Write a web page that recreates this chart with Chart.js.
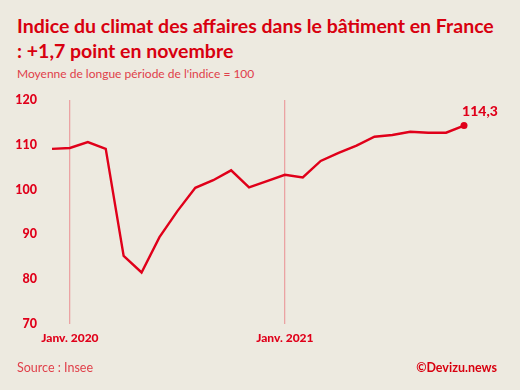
<!DOCTYPE html>
<html>
<head>
<meta charset="utf-8">
<script src="https://cdn.jsdelivr.net/npm/chart.js@4"></script>
<style>
  html, body { margin: 0; padding: 0; background: #edeae0; }
  #wrap { position: relative; width: 520px; height: 390px; overflow: hidden; font-family: Lato, sans-serif; }
  #title { position: absolute; left: 17px; top: 13px; color: #d8000f; font-weight: 700; font-size: 19.5px; line-height: 25px; white-space: nowrap; }
  #subtitle { position: absolute; left: 17px; top: 66px; color: #e0404a; font-size: 12px; white-space: nowrap; }
  #source { position: absolute; left: 17px; top: 360px; color: #e0404a; font-size: 12.5px; }
  #credit { position: absolute; right: 23px; top: 360px; color: #d8000f; font-weight: 700; font-size: 12.5px; }
  canvas { position: absolute; left: 0; top: 0; }
</style>
</head>
<body>
<div id="wrap">
  <div id="title">Indice du climat des affaires dans le bâtiment en France<br>: +1,7 point en novembre</div>
  <div id="subtitle">Moyenne de longue période de l'indice = 100</div>
  <canvas id="myChart" width="520" height="390"></canvas>
  <div id="source">Source : Insee</div>
  <div id="credit">©Devizu.news</div>
</div>
<script>
'use strict';

// *Data* - monthly index, Dec 2019 to Nov 2021
let months = ['déc. 2019',
  'janv. 2020', 'févr. 2020', 'mars 2020', 'avr. 2020', 'mai 2020', 'juin 2020',
  'juil. 2020', 'août 2020', 'sept. 2020', 'oct. 2020', 'nov. 2020', 'déc. 2020',
  'janv. 2021', 'févr. 2021', 'mars 2021', 'avr. 2021', 'mai 2021', 'juin 2021',
  'juil. 2021', 'août 2021', 'sept. 2021', 'oct. 2021', 'nov. 2021'];
let indexValues = [109.1,
  109.3, 110.6, 109.1, 85.2, 81.5, 89.4,
  95.2, 100.4, 102.1, 104.3, 100.5, 101.9,
  103.3, 102.7, 106.4, 108.2, 109.8, 111.8,
  112.2, 112.9, 112.7, 112.7, 114.3];
let yTicks = [70, 80, 90, 100, 110, 120];
// x labels only shown at these months
let markedMonths = { 'janv. 2020': 'Janv. 2020', 'janv. 2021': 'Janv. 2021' };
let lastLabel = '114,3';

const red = '#e0001a';
const ctx = document.getElementById('myChart');

// draws the dot and value on the last point
const lastPointPlugin = {
  id: 'lastPoint',
  afterDatasetsDraw(chart) {
    let meta = chart.getDatasetMeta(0);
    let pt = meta.data[meta.data.length - 1];
    let c = chart.ctx;
    c.save();
    c.fillStyle = red;
    c.beginPath();
    c.arc(pt.x, pt.y, 3.5, 0, Math.PI * 2);
    c.fill();
    c.font = '900 14px Lato, sans-serif';
    c.textAlign = 'center';
    c.textBaseline = 'middle';
    c.fillText(lastLabel, pt.x + 16, pt.y - 14);
    c.restore();
  }
};

new Chart(ctx, {
  type: 'line',
  data: {
    labels: months,
    datasets: [{
      data: indexValues,
      borderColor: red,
      borderWidth: 2.4,
      pointRadius: 0,
      tension: 0,
      fill: false
    }]
  },
  options: {
    responsive: false,
    animation: false,
    layout: { padding: { top: 100, right: 56, left: 0, bottom: 0 } },
    plugins: {
      legend: { display: false },
      tooltip: { enabled: false }
    },
    scales: {
      x: {
        offset: false,
        border: { display: false },
        grid: {
          drawTicks: false,
          lineWidth: 1.3,
          color: (c) => (c.tick && markedMonths[months[c.tick.value]]) ? '#eba3a3' : 'rgba(0,0,0,0)'
        },
        ticks: {
          autoSkip: false,
          maxRotation: 0,
          padding: 7,
          color: red,
          font: { family: 'Lato, sans-serif', weight: '900', size: 12 },
          callback: (v) => markedMonths[months[v]] || ''
        },
        afterFit: (scale) => { scale.height = 66; }
      },
      y: {
        min: 70,
        max: 120,
        border: { display: false },
        grid: { display: false, drawTicks: false },
        afterBuildTicks: (scale) => { scale.ticks = yTicks.map(v => ({ value: v })); },
        ticks: {
          padding: 15,
          color: red,
          font: { family: 'Lato, sans-serif', weight: '900', size: 12.5 }
        },
        afterFit: (scale) => { scale.width = 52; }
      }
    }
  },
  plugins: [lastPointPlugin]
});
</script>
</body>
</html>
